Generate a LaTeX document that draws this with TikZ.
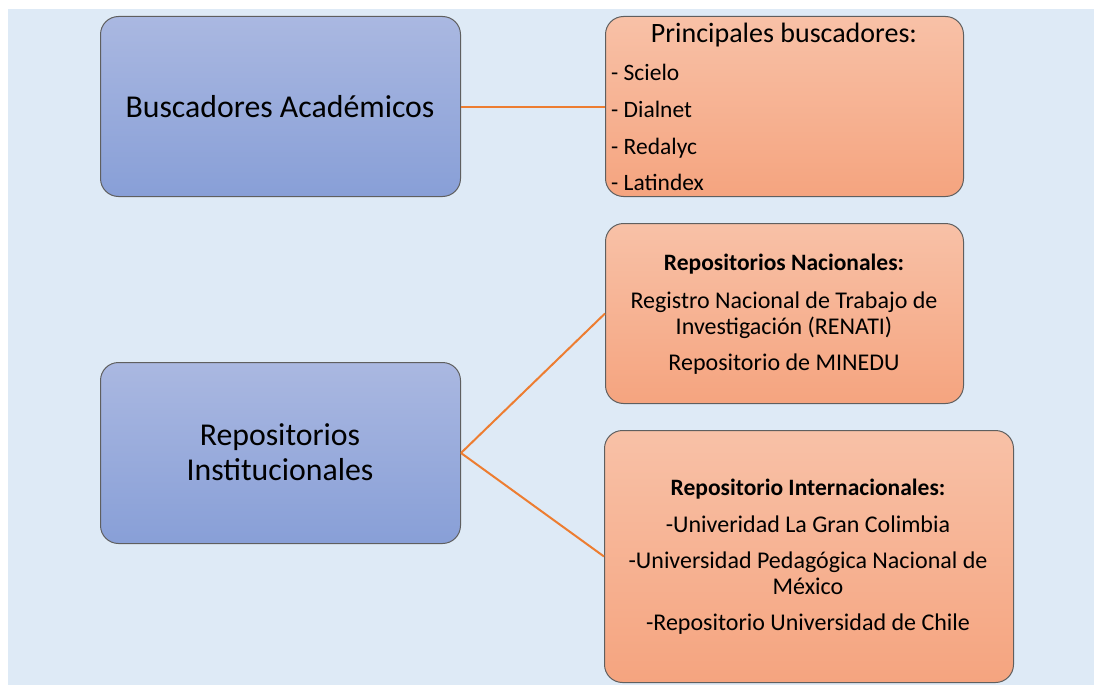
\documentclass[tikz,border=0pt]{standalone}
\usepackage{fontspec}
\setmainfont{Carlito}
\definecolor{bgblue}{HTML}{DEEAF6}
\definecolor{bluetop}{HTML}{AAB8E1}
\definecolor{bluebot}{HTML}{889FD7}
\definecolor{orgtop}{HTML}{F8C1A7}
\definecolor{orgbot}{HTML}{F5A47F}
\definecolor{edge}{HTML}{5F5F5F}
\definecolor{conn}{HTML}{ED7D31}
\tikzset{
  bluebox/.style={draw=edge, line width=1pt, rounded corners=18pt, top color=bluetop, bottom color=bluebot, anchor=north west, inner sep=0pt},
  orangebox/.style={draw=edge, line width=1pt, rounded corners=18pt, top color=orgtop, bottom color=orgbot, anchor=north west, inner sep=0pt},
  connline/.style={draw=conn, line width=2pt},
  bigtxt/.style={font=\fontsize{31.8}{35}\selectfont, anchor=base, inner sep=0pt},
  headtxt/.style={font=\fontsize{28}{32}\selectfont, anchor=base, inner sep=0pt},
  itemtxt/.style={font=\fontsize{23.5}{26}\selectfont, anchor=base west, inner sep=0pt},
  boldtxt/.style={font=\fontsize{23.5}{26}\selectfont\bfseries, anchor=base, inner sep=0pt},
  linetxt/.style={font=\fontsize{24}{26}\selectfont, anchor=base, inner sep=0pt},
}
\begin{document}
\begin{tikzpicture}[x=1pt, y=-1pt]
\useasboundingbox (0,0) rectangle (1094,685);
\fill[white] (0,0) rectangle (1094,685);
\fill[bgblue] (8,9) rectangle (1094,685);
% boxes
\node[bluebox, minimum width=360pt, minimum height=180pt] (ba) at (100,16) {};
\node[bluebox, minimum width=360pt, minimum height=181pt] (ri) at (100,362) {};
\node[orangebox, minimum width=358pt, minimum height=180pt] (pb) at (605,16) {};
\node[orangebox, minimum width=358pt, minimum height=180pt] (rn) at (605,223) {};
\node[orangebox, minimum width=409pt, minimum height=252pt] (rint) at (604,430) {};
% connectors
\draw[connline] (ba.east) -- (pb.west);
\draw[connline] (ri.east) -- (rn.west);
\draw[connline] (ri.east) -- (rint.west);
% texts
\node[bigtxt] (t1) at (280,117) {Buscadores Académicos};
\node[bigtxt] (t2) at (280,445) {Repositorios};
\node[bigtxt] (t3) at (280,480) {Institucionales};
\node[headtxt] (t4) at (784,42) {Principales buscadores:};
\node[itemtxt] (t5) at (611,80) {- Scielo};
\node[itemtxt] (t6) at (611,117) {- Dialnet};
\node[itemtxt] (t7) at (611,154) {- Redalyc};
\node[itemtxt] (t8) at (611,190) {- Latindex};
\node[boldtxt] (t9) at (784,270) {Repositorios Nacionales:};
\node[linetxt] (t10) at (784,308) {Registro Nacional de Trabajo de};
\node[linetxt] (t11) at (784,334) {Investigación (RENATI)};
\node[linetxt] (t12) at (784,370) {Repositorio de MINEDU};
\node[boldtxt] (t13) at (808,495) {Repositorio Internacionales:};
\node[linetxt] (t14) at (808,532) {-Univeridad La Gran Colimbia};
\node[linetxt] (t15) at (808,568) {-Universidad Pedagógica Nacional de};
\node[linetxt] (t16) at (808,594) {México};
\node[linetxt] (t17) at (808,630) {-Repositorio Universidad de Chile};
\end{tikzpicture}
\end{document}
